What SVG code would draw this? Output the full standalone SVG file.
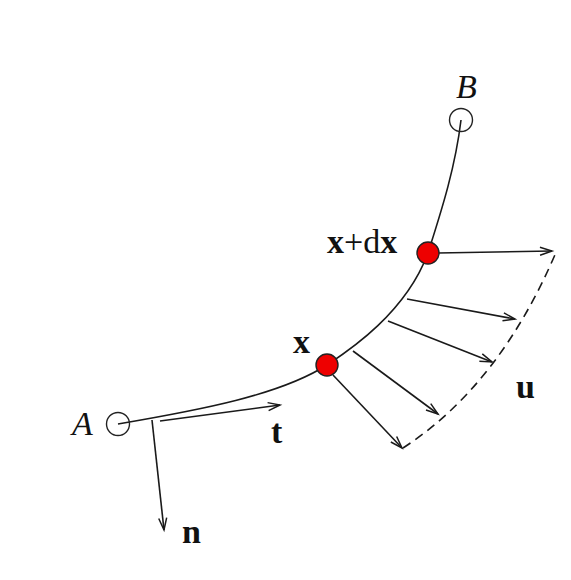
<svg xmlns="http://www.w3.org/2000/svg" width="571" height="580" viewBox="0 0 571 580">
<style>
.ln{fill:none;stroke:#1a1a1a;stroke-width:1.6}
.lbl{font-family:"Liberation Serif",serif;fill:#111}
.b{font-weight:bold;font-size:34px}
.i{font-style:italic;font-size:34px}
.dot{fill:#ee0000;stroke:#222;stroke-width:1.4}
.end{fill:none;stroke:#222;stroke-width:1.4}
</style>
<defs>
<marker id="ah" markerUnits="userSpaceOnUse" markerWidth="16" markerHeight="12" refX="13" refY="5" orient="auto" viewBox="0 0 16 12">
<path d="M1,1 L13,5 L1,9" fill="none" stroke="#1a1a1a" stroke-width="1.5"/>
</marker>
</defs>
<rect width="571" height="580" fill="#fff"/>
<g id="connectors">
<path id="curve" class="ln" d="M118,424 C200,410 280,395 327,365 C345,353 405,315 428,253 C440,215 455,170 461,120"/>
<path id="boundary" class="ln" d="M403,448 Q500,385 557,250" stroke-dasharray="9,6"/>
<line class="ln" x1="160" y1="421" x2="280" y2="405" marker-end="url(#ah)"/>
<line class="ln" x1="152" y1="420" x2="164" y2="530" marker-end="url(#ah)"/>
<line class="ln" x1="333" y1="375" x2="402" y2="448" marker-end="url(#ah)"/>
<line class="ln" x1="353" y1="351" x2="438" y2="414" marker-end="url(#ah)"/>
<line class="ln" x1="388" y1="321" x2="492" y2="362" marker-end="url(#ah)"/>
<line class="ln" x1="407" y1="299" x2="515" y2="319" marker-end="url(#ah)"/>
<line class="ln" x1="438" y1="253" x2="552" y2="251" marker-end="url(#ah)"/>
</g>
<g id="A"><circle class="end" cx="118" cy="424" r="11.5"/><text class="lbl i" x="72" y="435">A</text></g>
<g id="B"><circle class="end" cx="461" cy="120" r="11.5"/><text class="lbl i" x="456" y="98">B</text></g>
<g id="x"><circle class="dot" cx="327" cy="365" r="11"/><text class="lbl b" x="293" y="353">x</text></g>
<g id="xdx"><circle class="dot" cx="428" cy="253" r="11"/><text class="lbl" x="327" y="253" font-size="34"><tspan font-weight="bold">x</tspan>+d<tspan font-weight="bold">x</tspan></text></g>
<g id="t"><text class="lbl b" x="271" y="443">t</text></g>
<g id="n"><text class="lbl b" x="182" y="543">n</text></g>
<g id="u"><text class="lbl b" x="516" y="398">u</text></g>
</svg>
